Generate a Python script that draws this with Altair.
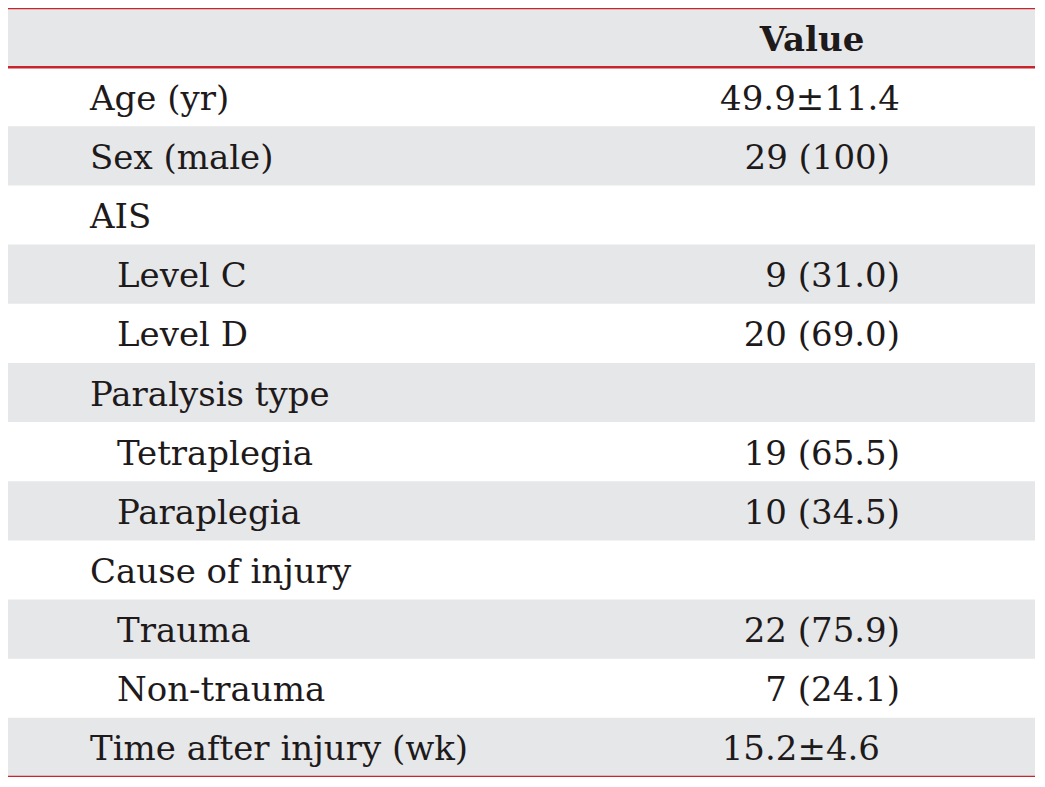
import altair as alt
import pandas as pd

labels = ["Age (yr)", "Sex (male)", "AIS", "Level C", "Level D", "Paralysis type",
          "Tetraplegia", "Paraplegia", "Cause of injury", "Trauma", "Non-trauma",
          "Time after injury (wk)"]
values = ["49.9±11.4", "29 (100)", "", "9 (31.0)", "20 (69.0)", "",
          "19 (65.5)", "10 (34.5)", "", "22 (75.9)", "7 (24.1)", "15.2±4.6"]
sub_item = [False, False, False, True, True, False, True, True, False, True, True, False]
header = "Value"

W = 1027
H = 769
RED = "#c8242d"
GRAY = "#e6e7e8"
INK = "#1e1a1b"
FONT = "DejaVu Serif"
FS = 34

rows = pd.DataFrame({
    "row": list(range(1, len(labels) + 1)),
    "label": labels,
    "value": values,
    "sub": sub_item,
})
bands = pd.DataFrame({"row": list(range(0, len(labels) + 1))})
bands["row2"] = bands["row"] + 1
bands = bands[bands["row"] % 2 == 0]
rules = pd.DataFrame({"y": [0, 1, len(labels) + 1]})
head = pd.DataFrame({"row": [0], "text": [header]})

yscale = alt.Scale(domain=[0, len(labels) + 1], range=[0, H])

band_layer = alt.Chart(bands).mark_rect(color=GRAY).encode(
    x=alt.value(0), x2=alt.value(W),
    y=alt.Y("row:Q", scale=yscale, axis=None),
    y2="row2:Q",
)

rule_layer = alt.Chart(rules).mark_rule(color=RED, strokeWidth=2.5).encode(
    x=alt.value(0), x2=alt.value(W),
    y=alt.Y("y:Q", scale=yscale, axis=None),
)

rows["mid"] = rows["row"] + 0.5
head["mid"] = head["row"] + 0.5

text_props = dict(font=FONT, fontSize=FS, color=INK, baseline="alphabetic", dy=13)

main_labels = alt.Chart(rows).transform_filter("!datum.sub").mark_text(
    align="left", **text_props).encode(
    x=alt.value(82), y=alt.Y("mid:Q", scale=yscale, axis=None), text="label:N")

sub_labels = alt.Chart(rows).transform_filter("datum.sub").mark_text(
    align="left", **text_props).encode(
    x=alt.value(109), y=alt.Y("mid:Q", scale=yscale, axis=None), text="label:N")

def value_layer(flt, dx):
    return alt.Chart(rows).transform_filter(flt).mark_text(
        align="right", dx=dx, **text_props).encode(
        x=alt.value(892), y=alt.Y("mid:Q", scale=yscale, axis=None), text="value:N")

value_main = value_layer("datum.row != 2 && datum.row != 12", 0)
value_sex = value_layer("datum.row == 2", -10)
value_time = value_layer("datum.row == 12", -20)

head_text = alt.Chart(head).mark_text(
    align="center", fontWeight="bold", font=FONT, fontSize=FS, color=INK,
    baseline="alphabetic", dy=13).encode(
    x=alt.value(804), y=alt.Y("mid:Q", scale=yscale, axis=None), text="text:N")

chart = alt.layer(band_layer, rule_layer, main_labels, sub_labels,
                  value_main, value_sex, value_time, head_text).properties(
    width=W, height=H, padding=0, autosize=alt.AutoSizeParams(type="none"),
    background="white",
).configure_view(stroke=None)

chart.save("out.html", embed_options={"renderer": "svg", "actions": False})
